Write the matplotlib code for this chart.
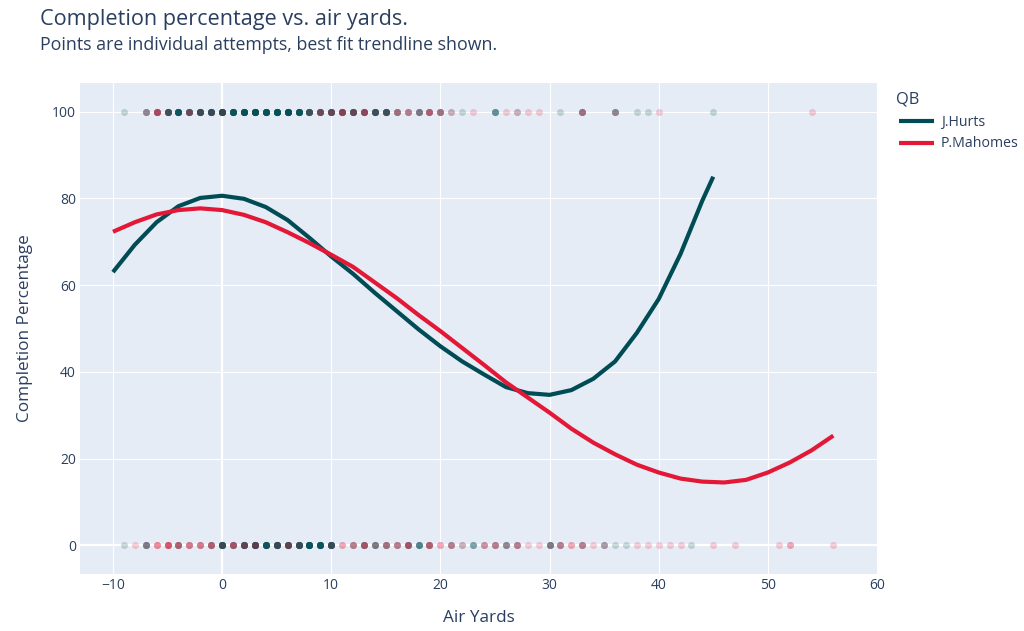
import numpy as np
import matplotlib
matplotlib.use("Agg")
import matplotlib.pyplot as plt

plt.rcParams['font.family'] = ['Open Sans', 'DejaVu Sans']

# ---- data ----
qbs = ["J.Hurts", "P.Mahomes"]
colors = {"J.Hurts": "#004C54", "P.Mahomes": "#E31837"}

# attempts: air-yard positions and number of completions (100) / incompletions (0)
hurts_comp_x   = [-9, -7, -6, -5, -4, -3, -2, -1, 0, 1, 2, 3, 4, 5, 6, 7, 8, 9, 10, 11, 12, 13, 14, 15, 16, 17, 18, 19, 20, 21, 22, 25, 27, 31, 33, 36, 38, 39, 45]
hurts_comp_n   = [1, 3, 4, 10, 12, 8, 12, 12, 14, 13, 15, 16, 14, 15, 16, 13, 10, 8, 9, 7, 9, 6, 10, 10, 3, 2, 4, 3, 3, 1, 1, 4, 1, 1, 3, 3, 1, 1, 1]
mahomes_comp_x = [-7, -6, -5, -3, -2, -1, 0, 8, 9, 10, 11, 12, 13, 14, 15, 16, 17, 18, 19, 20, 21, 23, 26, 27, 28, 29, 33, 36, 40, 54]
mahomes_comp_n = [1, 4, 1, 2, 1, 1, 1, 1, 2, 2, 3, 2, 3, 1, 1, 2, 2, 1, 3, 2, 1, 1, 1, 1, 1, 1, 2, 1, 1, 1]

hurts_inc_x    = [-9, -7, -5, -4, -3, -2, -1, 0, 1, 2, 3, 4, 5, 6, 7, 8, 9, 10, 12, 13, 14, 15, 16, 17, 18, 19, 21, 22, 23, 24, 25, 26, 27, 30, 31, 33, 35, 36, 37, 43]
hurts_inc_n    = [1, 4, 1, 3, 1, 1, 3, 12, 4, 10, 12, 12, 12, 10, 12, 14, 13, 12, 2, 4, 4, 3, 2, 4, 5, 3, 2, 1, 3, 1, 2, 3, 2, 4, 2, 2, 2, 1, 1, 1]
mahomes_inc_x  = [-8, -7, -6, -5, -4, -3, -2, -1, 0, 1, 2, 3, 5, 6, 7, 10, 11, 12, 13, 14, 15, 16, 17, 19, 20, 21, 22, 24, 25, 26, 27, 28, 29, 30, 31, 32, 33, 34, 35, 38, 39, 40, 41, 42, 45, 47, 51, 52, 56]
mahomes_inc_n  = [1, 1, 3, 5, 3, 3, 3, 3, 1, 3, 2, 2, 1, 2, 1, 1, 2, 2, 3, 1, 2, 2, 3, 3, 2, 2, 1, 2, 2, 1, 2, 1, 1, 1, 2, 2, 2, 1, 1, 1, 1, 1, 1, 1, 1, 1, 1, 2, 1]

# best-fit trendlines
hurts_fit_x = [-10, -8, -6, -4, -2, 0, 2, 4, 6, 8, 10, 12, 14, 16, 18, 20, 22, 24, 26, 28, 30, 32, 34, 36, 38, 40, 42, 44, 45]
hurts_fit_y = [63.0, 69.3, 74.5, 78.2, 80.1, 80.6, 79.9, 78.0, 75.0, 70.9, 66.6, 62.6, 58.2, 54.0, 49.8, 45.9, 42.4, 39.4, 36.5, 35.1, 34.7, 35.8, 38.4, 42.4, 49.0, 56.8, 67.2, 79.5, 85.0]
mahomes_fit_x = [-10, -8, -6, -4, -2, 0, 2, 4, 6, 8, 10, 12, 14, 16, 18, 20, 22, 24, 26, 28, 30, 32, 34, 36, 38, 40, 42, 44, 46, 48, 50, 52, 54, 56]
mahomes_fit_y = [72.3, 74.5, 76.3, 77.3, 77.7, 77.3, 76.2, 74.5, 72.2, 69.7, 67.0, 64.2, 60.6, 57.0, 53.1, 49.4, 45.5, 41.6, 37.6, 34.1, 30.6, 26.9, 23.7, 21.0, 18.6, 16.8, 15.4, 14.7, 14.5, 15.1, 16.8, 19.1, 21.9, 25.3]

x_ticks = [-10, 0, 10, 20, 30, 40, 50, 60]
y_ticks = [0, 20, 40, 60, 80, 100]

# ---- figure ----
W, H = 1024, 631
fig = plt.figure(figsize=(W / 100, H / 100), dpi=100)
fig.patch.set_facecolor("white")
L, R, T, B = 80, 877, 83, 574
ax = fig.add_axes([L / W, 1 - B / H, (R - L) / W, (B - T) / H])
ax.set_facecolor("#E5ECF6")
for s in ax.spines.values():
    s.set_visible(False)

TXT = "#2a3f5f"

points = {
    "J.Hurts": (hurts_comp_x, hurts_comp_n, hurts_inc_x, hurts_inc_n, hurts_fit_x, hurts_fit_y),
    "P.Mahomes": (mahomes_comp_x, mahomes_comp_n, mahomes_inc_x, mahomes_inc_n, mahomes_fit_x, mahomes_fit_y),
}

for q in qbs:
    cx, cn, ix, inn, fx, fy = points[q]
    xs = np.concatenate([np.repeat(cx, cn), np.repeat(ix, inn)])
    ys = np.concatenate([np.full(int(np.sum(cn)), 100.0), np.full(int(np.sum(inn)), 0.0)])
    ax.scatter(xs, ys, s=26, color=colors[q], alpha=0.2, linewidths=0, zorder=3)
    ax.plot(fx, fy, color=colors[q], lw=3.0, solid_capstyle="butt", solid_joinstyle="round", zorder=4, label=q)

ax.set_xlim(-13.02, 59.95)
ax.set_ylim(-6.6, 106.6)
ax.set_xticks(x_ticks)
ax.set_yticks(y_ticks)
ax.set_xticklabels([f"\u2212{abs(v)}" if v < 0 else str(v) for v in x_ticks])
ax.grid(True, color="white", lw=0.8, zorder=0)
ax.set_axisbelow(True)
ax.axvline(0, color="white", lw=1.6, zorder=1)
ax.axhline(0, color="white", lw=1.6, zorder=1)
ax.tick_params(length=0, labelsize=10, labelcolor=TXT, pad=3)

# axis titles
fig.text(478.7 / W, 1 - 621.7 / H, "Air Yards", ha="center", va="baseline", fontsize=12.3, color=TXT)
fig.text(25 / W, 1 - 328.5 / H, "Completion Percentage", ha="center", va="center", rotation=90, fontsize=12.3, color=TXT)

# title and subtitle
fig.text(39.5 / W, 1 - 25 / H, "Completion percentage vs. air yards.", ha="left", va="baseline", fontsize=15.6, color=TXT)
fig.text(39.5 / W, 1 - 50 / H, "Points are individual attempts, best fit trendline shown.", ha="left", va="baseline", fontsize=12.75, color=TXT)

# legend (manual, plotly-like)
fig.text(896 / W, 1 - 104 / H, "QB", ha="left", va="baseline", fontsize=11.8, color=TXT)
for i, q in enumerate(qbs):
    yl = 121 + i * 21.7
    fig.add_artist(plt.Line2D([899.3 / W, 934.3 / W], [1 - yl / H, 1 - yl / H], color=colors[q], lw=3.0, solid_capstyle="butt"))
    fig.text(940.7 / W, 1 - (yl + 4.7) / H, q, ha="left", va="baseline", fontsize=10.2, color=TXT)

fig.savefig("out.png", dpi=100)
